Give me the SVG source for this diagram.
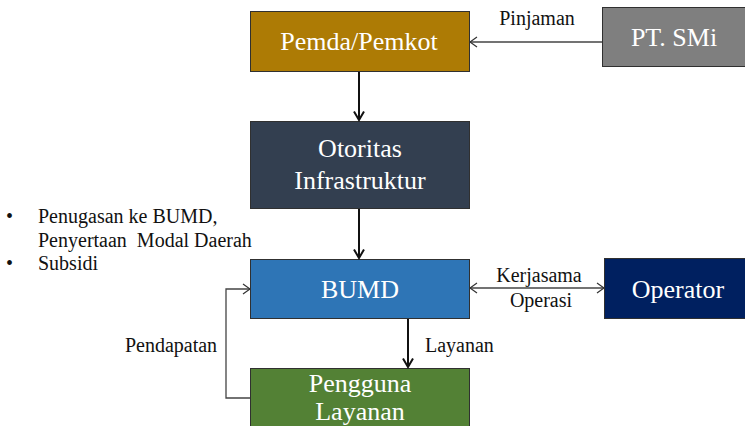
<svg xmlns="http://www.w3.org/2000/svg" width="745" height="426" viewBox="0 0 745 426">
  <defs>
    <!-- thin open chevron for the light connectors -->
    <marker id="open" viewBox="0 0 10 12" refX="9" refY="6" markerWidth="10" markerHeight="12" markerUnits="userSpaceOnUse" orient="auto-start-reverse">
      <path d="M2,1 L9,6 L2,11" fill="none" stroke="#333" stroke-width="1.2"/>
    </marker>
    <!-- heavier chevron for the main vertical flow -->
    <marker id="bold" viewBox="0 0 12 12" refX="10.5" refY="6" markerWidth="12" markerHeight="12" markerUnits="userSpaceOnUse" orient="auto">
      <path d="M2,1 L10.5,6 L2,11" fill="none" stroke="#111" stroke-width="2"/>
    </marker>
  </defs>
  <style>
    .box { stroke: #303030; stroke-width: 1; }
    .lbl { font-family: "Liberation Serif", "Times New Roman", serif; font-size: 26px; fill: #ffffff; text-anchor: middle; }
    .txt { font-family: "Liberation Serif", "Times New Roman", serif; font-size: 20px; fill: #111; }
    .thin { fill: none; stroke: #444; stroke-width: 1.3; }
    .thick { fill: none; stroke: #111; stroke-width: 2; }
  </style>
  <rect width="745" height="426" fill="#ffffff"/>

  <g id="pemda">
    <rect class="box" x="250.5" y="11.5" width="219" height="60" fill="#AD7B05"/>
    <text class="lbl" x="359" y="50">Pemda/Pemkot</text>
  </g>
  <g id="ptsmi">
    <rect class="box" x="602.5" y="7.5" width="145" height="59" fill="#7F7F7F"/>
    <text class="lbl" x="674" y="46">PT. SMi</text>
  </g>
  <g id="otoritas">
    <rect class="box" x="250.5" y="121.5" width="219" height="87" fill="#333F50"/>
    <text class="lbl" x="360" y="157">Otoritas</text>
    <text class="lbl" x="360" y="189">Infrastruktur</text>
  </g>
  <g id="bumd">
    <rect class="box" x="250.5" y="259.5" width="219" height="59" fill="#2E75B6"/>
    <text class="lbl" x="360" y="298">BUMD</text>
  </g>
  <g id="operator">
    <rect class="box" x="604.5" y="258.5" width="143" height="60" fill="#002060"/>
    <text class="lbl" x="678" y="298">Operator</text>
  </g>
  <g id="pengguna">
    <rect class="box" x="250.5" y="368.5" width="219" height="62" fill="#538135"/>
    <text class="lbl" x="360" y="392">Pengguna</text>
    <text class="lbl" x="360" y="420">Layanan</text>
  </g>

  <g id="connectors">
    <line class="thin" x1="602" y1="42" x2="470" y2="42" marker-end="url(#open)"/>
    <line class="thick" x1="359" y1="72" x2="359" y2="120" marker-end="url(#bold)"/>
    <line class="thick" x1="359" y1="209" x2="359" y2="258" marker-end="url(#bold)"/>
    <line class="thin" x1="470" y1="288" x2="604" y2="288" marker-start="url(#open)" marker-end="url(#open)"/>
    <line class="thick" x1="408" y1="319" x2="408" y2="367" marker-end="url(#bold)"/>
    <polyline class="thin" points="250,398 226,398 226,289 250,289" marker-end="url(#open)"/>
  </g>

  <g id="labels">
    <text class="txt" x="537" y="25" text-anchor="middle">Pinjaman</text>
    <text class="txt" x="539" y="282" text-anchor="middle">Kerjasama</text>
    <text class="txt" x="541" y="307" text-anchor="middle">Operasi</text>
    <text class="txt" x="425" y="352">Layanan</text>
    <text class="txt" x="171" y="352" text-anchor="middle">Pendapatan</text>
    <text class="txt" x="6" y="223">•</text>
    <text class="txt" x="38" y="223">Penugasan ke BUMD,</text>
    <text class="txt" x="38" y="247" xml:space="preserve">Penyertaan  Modal Daerah</text>
    <text class="txt" x="6" y="270">•</text>
    <text class="txt" x="38" y="270">Subsidi</text>
  </g>
</svg>
